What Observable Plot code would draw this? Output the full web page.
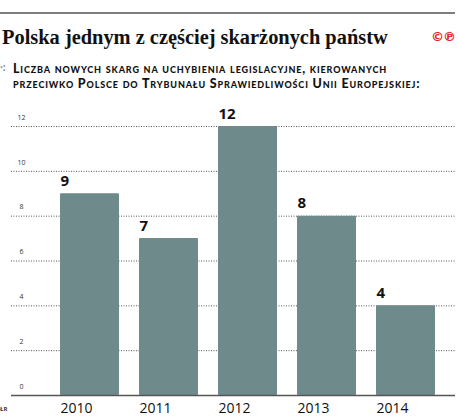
<!DOCTYPE html>
<html><head><meta charset="utf-8">
<script src="https://cdn.jsdelivr.net/npm/d3@7"></script>
<script src="https://cdn.jsdelivr.net/npm/@observablehq/plot@0.6"></script>
<style>
html,body{margin:0;padding:0;background:#fff}
body{width:458px;height:418px;overflow:hidden;position:relative;font-family:"Open Sans",sans-serif;color:#1a1a1a}
#rule{position:absolute;left:0;top:12px;width:455px;height:2px;background:#7d7d7d}
#title{position:absolute;left:2px;top:25px;font-family:"Liberation Serif",serif;font-weight:bold;font-size:20.4px;line-height:24px;white-space:nowrap;color:#111}
#logo{position:absolute;left:431px;top:29px;font-family:"DejaVu Sans",sans-serif;font-weight:bold;font-size:13px;line-height:16px;color:#e8262b;letter-spacing:-1px}
#mark{position:absolute;left:0;top:61px;font-size:10px;line-height:12px;color:#6e8a8a;font-weight:bold}
.sub{position:absolute;left:13px;font-family:Lato,sans-serif;font-size:12.5px;line-height:15px;letter-spacing:0.85px;font-weight:900;font-variant:small-caps;white-space:nowrap;color:#111}
#sub1{top:61px}
#sub2{top:76px}
#credit{position:absolute;left:0;top:405px;font-size:6px;font-weight:bold;line-height:8px;color:#333}
#chart{position:absolute;left:0;top:100px}
</style>
</head><body>
<div id="rule"></div>
<div id="title">Polska jednym z częściej skarżonych państw</div>
<div id="logo">©℗</div>
<div id="mark">·:</div>
<div class="sub" id="sub1">Liczba nowych skarg na uchybienia legislacyjne, kierowanych</div>
<div class="sub" id="sub2">przeciwko Polsce do Trybunału Sprawiedliwości Unii Europejskiej:</div>
<div id="credit">ŁR</div>
<div id="chart"></div>
<script>
const years = ["2010", "2011", "2012", "2013", "2014"];
const counts = [9, 7, 12, 8, 4];
const yTicks = [0, 2, 4, 6, 8, 10, 12];
const data = years.map((year, i) => ({year, count: counts[i]}));

const halfBand = 29.6;
const chart = Plot.plot({
  width: 458,
  height: 318,
  marginLeft: 11,
  marginRight: 3,
  marginTop: 26,
  marginBottom: 23,
  style: {background: "transparent", fontFamily: "Open Sans, sans-serif", overflow: "visible"},
  x: {domain: years, paddingInner: 0.25, paddingOuter: 0.424, align: 0.713, axis: null},
  y: {domain: [0, 12], axis: null},
  marks: [
    Plot.ruleY(yTicks.filter(d => d > 0), {stroke: "#555", strokeWidth: 1, strokeDasharray: "1,1.5"}),
    Plot.barY(data, {x: "year", y: "count", fill: "#6e8a8a", rx: 1}),
    Plot.ruleY([0], {stroke: "#555", strokeWidth: 1.5}),
    Plot.text(yTicks, {y: d => d, text: d => String(d), frameAnchor: "left", dx: 10, dy: -9, fontSize: 7, fill: "#333", textAnchor: "middle"}),
    Plot.text(data, {x: "year", y: "count", text: d => String(d.count), textAnchor: "start", dx: -halfBand, dy: -8, lineAnchor: "bottom", fontSize: 15, fontWeight: "bold", fill: "#111"}),
    Plot.text(data, {x: "year", text: "year", frameAnchor: "bottom", textAnchor: "start", dx: -halfBand, dy: 17, lineAnchor: "bottom", fontSize: 14, fill: "#111"})
  ]
});
document.getElementById("chart").appendChild(chart);
</script>
</body></html>
